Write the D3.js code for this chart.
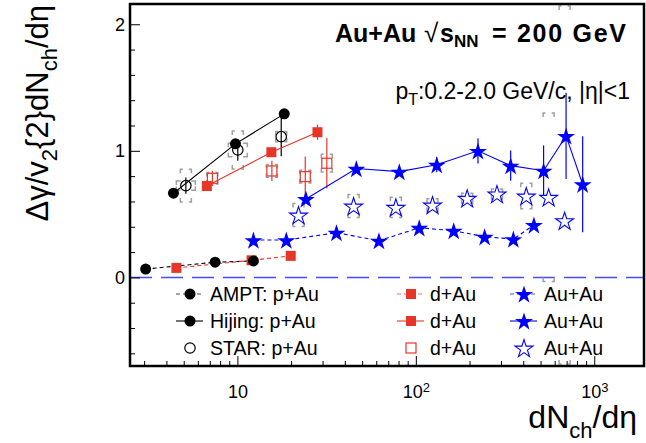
<!DOCTYPE html>
<html><head><meta charset="utf-8">
<script src="https://cdn.jsdelivr.net/npm/d3@7"></script>
<style>body{margin:0;background:#fff}svg{display:block}text{font-family:"Liberation Sans",Arial,Helvetica,sans-serif}</style>
</head><body><svg id="c" width="646" height="443"></svg>
<script>
// ---- data ----
const amptPAuX = [3.06, 7.5, 12.3];
const amptPAuY = [0.066, 0.12, 0.13];
const amptDAuX = [4.55, 12.0, 19.9];
const amptDAuY = [0.075, 0.135, 0.17];
const amptAuAuX = [12.3, 18.8, 35.9, 62.1, 104.5, 163, 243, 352, 459];
const amptAuAuY = [0.295, 0.295, 0.353, 0.29, 0.392, 0.369, 0.321, 0.303, 0.414];
const hijPAuX = [4.38, 9.75, 18.3];
const hijPAuY = [0.665, 1.055, 1.292];
const hijDAuX = [6.74, 15.5, 28.1];
const hijDAuY = [0.722, 0.989, 1.147];
const hijDAuErr = [0.0, 0.0, 0.06];
const hijAuAuX = [24.2, 46.4, 80.8, 131, 223, 340, 520, 695, 861];
const hijAuAuY = [0.62, 0.86, 0.836, 0.89, 1.0, 0.883, 0.843, 1.118, 0.736];
const hijAuAuErr = [0.03, 0.03, 0.03, 0.06, 0.1, 0.12, 0.2, 0.34, 0.38];
const starPAuX = [5.14, 10.05, 17.6];
const starPAuY = [0.725, 1.007, 1.112];
const starPAuErr = [0.065, 0.085, 0.155];
const starPAuSys = [0.13, 0.15, 0.04];
const starPAuSys2 = [0.037, 0.053, 0];
const starDAuX = [7.24, 15.6, 24.0, 31.7];
const starDAuY = [0.783, 0.841, 0.796, 0.902];
const starDAuErr = [0.06, 0.08, 0.16, 0.2];
const starDAuSys = [0.045, 0.05, 0.05, 0.07];
const starAuAuX = [22.0, 44.8, 77.3, 124, 194, 285, 416, 555, 682];
const starAuAuY = [0.493, 0.564, 0.554, 0.572, 0.625, 0.659, 0.643, 0.633, 0.448];
const starAuAuSys = [0.09, 0.09, 0.08, 0.05, 0.04, 0.04, 0.1, 0.665, 1.72];
const xMajorTicks = [10, 100, 1000];
const xMajorLabels = [["10", ""], ["10", "2"], ["10", "3"]];
const yMajorTicks = [0, 1, 2];
const legendRows = ["AMPT: p+Au", "Hijing: p+Au", "STAR: p+Au"];
const legendSystems = ["d+Au", "Au+Au"];

// ---- setup ----
const svg = d3.select("#c");
const L = 130, R = 644, T = 4, B = 366;
const x = d3.scaleLog().domain([2.5, 1900]).range([L, R]);
const y = d3.scaleLinear().domain([-0.70, 2.16]).range([B, T]);
const RED = "#e8352a", BLUE = "#0000ff", GRAY = "#a0a0a0";
const zip = (xs, ys) => xs.map((v, i) => [v, ys[i]]);

svg.append("defs").append("clipPath").attr("id", "clip")
  .append("rect").attr("x", L).attr("y", T).attr("width", R - L).attr("height", B - T);
const plot = svg.append("g").attr("clip-path", "url(#clip)");

// zero line
plot.append("line").attr("x1", L).attr("x2", R).attr("y1", y(0)).attr("y2", y(0))
  .attr("stroke", "#4a4aff").attr("stroke-width", 1.5).attr("stroke-dasharray", "22,9");

// systematic brackets
function brackets(xs, ys, sys, hw) {
  xs.forEach((xv, i) => {
    if (!sys[i]) return;
    const cx = x(xv);
    const yt = Math.max(y(ys[i] + sys[i]), T + 2);
    const yb = Math.min(y(ys[i] - sys[i]), B - 2);
    const c = Math.min(4, (yb - yt) / 2);
    const h = hw * 0.45;
    const p = `M${cx - hw + h},${yt}H${cx - hw}V${yt + c}M${cx + hw - h},${yt}H${cx + hw}V${yt + c}` +
              `M${cx - hw + h},${yb}H${cx - hw}V${yb - c}M${cx + hw - h},${yb}H${cx + hw}V${yb - c}`;
    plot.append("path").attr("d", p).attr("fill", "none").attr("stroke", GRAY).attr("stroke-width", 1.5);
  });
}
brackets(starPAuX, starPAuY, starPAuSys, 5.5);
brackets(starPAuX, starPAuY, starPAuSys2, 9.5);
brackets(starDAuX, starDAuY, starDAuSys, 5.5);
brackets(starAuAuX, starAuAuY, starAuAuSys, 5.5);

// error bars
function errs(xs, ys, es, color) {
  xs.forEach((xv, i) => {
    if (!es[i]) return;
    plot.append("line").attr("x1", x(xv)).attr("x2", x(xv))
      .attr("y1", y(ys[i] - es[i])).attr("y2", y(ys[i] + es[i]))
      .attr("stroke", color).attr("stroke-width", 1.2);
  });
}
errs(starPAuX, starPAuY, starPAuErr, "#000");
errs(starDAuX, starDAuY, starDAuErr, RED);
errs(hijDAuX, hijDAuY, hijDAuErr, RED);
errs(hijAuAuX, hijAuAuY, hijAuAuErr, BLUE);

// lines
const line = d3.line().x(d => x(d[0])).y(d => y(d[1]));
function drawLine(xs, ys, color, dashed) {
  plot.append("path").datum(zip(xs, ys)).attr("d", line).attr("fill", "none")
    .attr("stroke", color).attr("stroke-width", 1.1)
    .attr("stroke-dasharray", dashed ? "4,3" : null);
}
drawLine(amptPAuX, amptPAuY, "#000", true);
drawLine(amptDAuX, amptDAuY, RED, true);
drawLine(amptAuAuX, amptAuAuY, BLUE, true);
drawLine(hijPAuX, hijPAuY, "#000", false);
drawLine(hijDAuX, hijDAuY, RED, false);
drawLine(hijAuAuX, hijAuAuY, BLUE, false);

// markers
const star = d3.symbol().type(d3.symbolStar).size(100)();
function marker(g, type, cx, cy) {
  if (type === "fcircle") g.append("circle").attr("cx", cx).attr("cy", cy).attr("r", 5.5).attr("fill", "#000");
  else if (type === "ocircle") g.append("circle").attr("cx", cx).attr("cy", cy).attr("r", 5.2).attr("fill", "none").attr("stroke", "#000").attr("stroke-width", 1.2);
  else if (type === "fsquare") g.append("rect").attr("x", cx - 5).attr("y", cy - 5).attr("width", 10).attr("height", 10).attr("fill", RED);
  else if (type === "osquare") g.append("rect").attr("x", cx - 5).attr("y", cy - 5).attr("width", 10).attr("height", 10).attr("fill", "none").attr("stroke", RED).attr("stroke-width", 1.2);
  else if (type === "fstar") g.append("path").attr("d", star).attr("transform", `translate(${cx},${cy + 1})`).attr("fill", BLUE);
  else if (type === "ostar") g.append("path").attr("d", star).attr("transform", `translate(${cx},${cy + 1})`).attr("fill", "none").attr("stroke", BLUE).attr("stroke-width", 1.1);
}
function drawMarkers(xs, ys, type) { xs.forEach((xv, i) => marker(plot, type, x(xv), y(ys[i]))); }
drawMarkers(starPAuX, starPAuY, "ocircle");
drawMarkers(starDAuX, starDAuY, "osquare");
drawMarkers(starAuAuX, starAuAuY, "ostar");
drawMarkers(hijPAuX, hijPAuY, "fcircle");
drawMarkers(hijDAuX, hijDAuY, "fsquare");
drawMarkers(hijAuAuX, hijAuAuY, "fstar");
drawMarkers(amptAuAuX, amptAuAuY, "fstar");
drawMarkers(amptDAuX, amptDAuY, "fsquare");
drawMarkers(amptPAuX, amptPAuY, "fcircle");

// ---- axes ----
const xMinor = [];
for (let d = 1; d <= 1000; d *= 10) for (let k = 2; k <= 9; k++) { const v = k * d; if (v >= 2.5 && v <= 1900) xMinor.push(v); }
svg.append("g").attr("transform", `translate(0,${B})`)
  .call(d3.axisBottom(x).tickValues(xMinor).tickSize(-5).tickFormat(""))
  .call(g => g.select(".domain").remove())
  .selectAll("line").attr("stroke", "#000").attr("stroke-width", 1);
const xg = svg.append("g").attr("transform", `translate(0,${B})`)
  .call(d3.axisBottom(x).tickValues(xMajorTicks).tickSize(-10).tickPadding(19).tickFormat(""))
  .call(g => g.select(".domain").remove());
xg.selectAll("line").attr("stroke", "#000").attr("stroke-width", 1);
xg.selectAll(".tick text").each(function (d, i) {
  const t = d3.select(this).attr("font-size", 18).attr("fill", "#000").attr("font-family", null);
  t.append("tspan").text(xMajorLabels[i][0]);
  if (xMajorLabels[i][1]) t.append("tspan").attr("dy", "-0.45em").attr("font-size", 13).text(xMajorLabels[i][1]);
});

const yMinor = d3.range(-3, 11).map(k => k * 0.2).filter(v => Math.abs(v - Math.round(v)) > 0.01);
svg.append("g").attr("transform", `translate(${L},0)`)
  .call(d3.axisLeft(y).tickValues(yMinor).tickSize(-5).tickFormat(""))
  .call(g => g.select(".domain").remove())
  .selectAll("line").attr("stroke", "#000");
const yg = svg.append("g").attr("transform", `translate(${L},0)`)
  .call(d3.axisLeft(y).tickValues(yMajorTicks).tickSize(-10).tickPadding(5).tickFormat(d3.format("d")))
  .call(g => g.select(".domain").remove());
yg.selectAll("line").attr("stroke", "#000");
yg.selectAll("text").attr("font-size", 18).attr("fill", "#000").attr("font-family", null);

// frame
svg.append("rect").attr("x", L).attr("y", T).attr("width", R - L).attr("height", B - T)
  .attr("fill", "none").attr("stroke", "#000").attr("stroke-width", 2.5);

// axis titles
const yt = svg.append("text").attr("transform", "translate(48,5) rotate(-90)")
  .attr("text-anchor", "end").attr("font-size", 31).attr("fill", "#000");
yt.append("tspan").text("Δγ/v");
yt.append("tspan").attr("dy", 9).attr("font-size", 22).text("2");
yt.append("tspan").attr("dy", -9).text("{2}dN");
yt.append("tspan").attr("dy", 9).attr("font-size", 22).text("ch");
yt.append("tspan").attr("dy", -9).text("/dη");

const xt = svg.append("text").attr("x", 637).attr("y", 428)
  .attr("text-anchor", "end").attr("font-size", 32).attr("fill", "#000");
xt.append("tspan").text("dN");
xt.append("tspan").attr("dy", 10).attr("font-size", 22).text("ch");
xt.append("tspan").attr("dy", -10).text("/dη");

// annotations
svg.append("text").attr("x", 335).attr("y", 42).attr("font-size", 25).attr("font-weight", "bold")
  .attr("fill", "#000").text("Au+Au");
svg.append("text").attr("x", 424).attr("y", 42).attr("font-size", 26).attr("fill", "#000").text("√");
const sn = svg.append("text").attr("x", 440).attr("y", 42).attr("font-size", 25).attr("font-weight", "bold").attr("fill", "#000");
sn.append("tspan").text("s");
sn.append("tspan").attr("dy", 5).attr("font-size", 17).text("NN");
svg.append("text").attr("x", 492).attr("y", 42).attr("font-size", 25).attr("font-weight", "bold")
  .attr("fill", "#000").attr("textLength", 134).attr("lengthAdjust", "spacing").text("= 200 GeV");

const pt = svg.append("text").attr("x", 630).attr("y", 99).attr("text-anchor", "end")
  .attr("font-size", 23).attr("fill", "#000");
pt.append("tspan").text("p");
pt.append("tspan").attr("dy", 6).attr("font-size", 16).text("T");
pt.append("tspan").attr("dy", -6).text(":0.2-2.0 GeV/c, |η|<1");

// ---- legend ----
const rowsY = [294, 321, 348];
const cols = [
  { mx: 190, tx: 210, label: i => legendRows[i], color: "#000", types: ["fcircle", "fcircle", "ocircle"] },
  { mx: 411, tx: 430, label: () => legendSystems[0], color: RED, types: ["fsquare", "fsquare", "osquare"] },
  { mx: 524, tx: 544, label: () => legendSystems[1], color: BLUE, types: ["fstar", "fstar", "ostar"] }
];
const lg = svg.append("g");
cols.forEach(c => {
  rowsY.forEach((ry, i) => {
    if (i < 2) lg.append("line").attr("x1", c.mx - 14).attr("x2", c.mx + 13).attr("y1", ry).attr("y2", ry)
      .attr("stroke", c.color).attr("stroke-width", 1.1).attr("stroke-dasharray", i === 0 ? "4,3" : null)
      .attr("opacity", i === 0 ? 0.7 : 1);
    marker(lg, c.types[i], c.mx, ry);
    lg.append("text").attr("x", c.tx).attr("y", ry + 7).attr("font-size", 19.5).attr("fill", "#000").text(c.label(i));
  });
});
</script></body></html>
